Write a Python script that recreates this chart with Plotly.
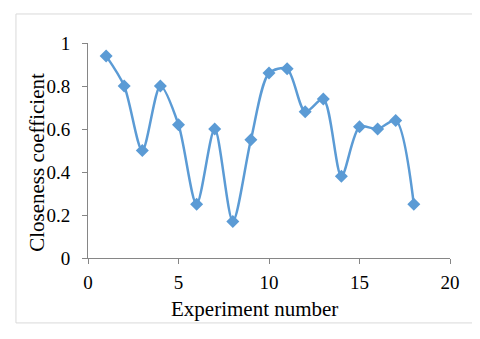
import plotly.graph_objects as go

# Experiment data
experiment = list(range(1, 19))
closeness = [0.94, 0.80, 0.50, 0.80, 0.62, 0.25, 0.60, 0.17, 0.55,
             0.86, 0.88, 0.68, 0.74, 0.38, 0.61, 0.60, 0.64, 0.25]
x_ticks = [0, 5, 10, 15, 20]
y_ticks = [0, 0.2, 0.4, 0.6, 0.8, 1]
y_tick_text = ["0", "0.2", "0.4", "0.6", "0.8", "1"]

blue = "#5B9BD5"
axis_grey = "#868686"
font_family = "Liberation Serif, Times New Roman, serif"

fig = go.Figure()
fig.add_trace(go.Scatter(
    x=experiment, y=closeness,
    mode="lines+markers",
    line=dict(color=blue, width=2.5, shape="spline", smoothing=0.8),
    marker=dict(symbol="diamond", size=10, color=blue),
))

# page body adds ~8px offset, so margins are shifted to compensate
fig.update_layout(
    width=480, height=339,
    margin=dict(l=80, r=38, t=35, b=89),
    paper_bgcolor="white", plot_bgcolor="white",
    showlegend=False,
    font=dict(family=font_family, color="black", size=19),
    xaxis=dict(
        range=[0, 20], tickvals=x_ticks, showgrid=False, zeroline=False,
        showline=True, linecolor=axis_grey, linewidth=1,
        ticks="outside", ticklen=5, tickcolor=axis_grey,
        ticklabelstandoff=2,
    ),
    yaxis=dict(
        range=[0, 1], tickvals=y_ticks, ticktext=y_tick_text,
        showgrid=False, zeroline=False,
        showline=True, linecolor=axis_grey, linewidth=1,
        ticks="outside", ticklen=5, tickcolor=axis_grey,
        ticklabelstandoff=8,
    ),
    # axis titles as annotations so they sit where the original places them
    annotations=[
        dict(text="Experiment number", xref="paper", yref="paper",
             x=0.461, y=-0.235, xanchor="center", yanchor="middle",
             showarrow=False, font=dict(size=21)),
        dict(text="Closeness coefficient", xref="paper", yref="paper",
             x=-0.141, y=0.447, xanchor="center", yanchor="middle",
             textangle=-90, showarrow=False, font=dict(size=21)),
    ],
    shapes=[dict(
        type="rect", xref="paper", yref="paper",
        x0=-0.199, x1=1.069, y0=-0.302, y1=1.135,
        line=dict(color="#D9D9D9", width=1),
    )],
)

fig.write_html("out.html")
